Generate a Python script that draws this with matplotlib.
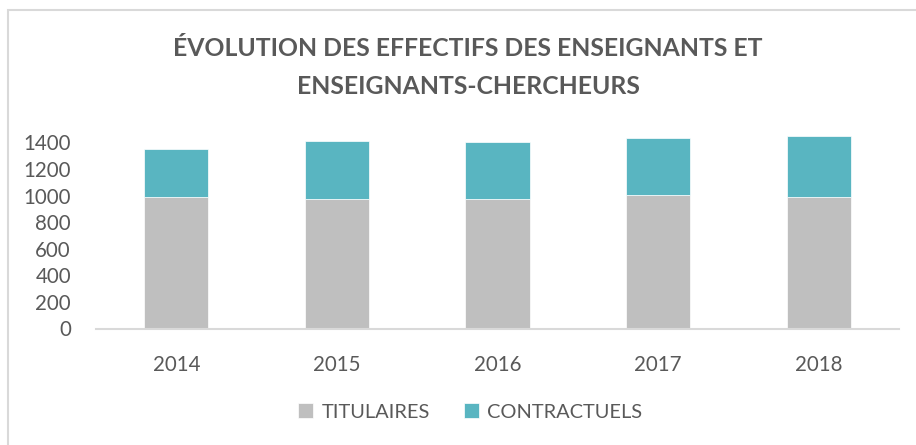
import numpy as np
import matplotlib.pyplot as plt
from matplotlib.patches import Rectangle

plt.rcParams['font.family'] = ['Lato', 'DejaVu Sans']

# Effectifs par année
annees = ['2014', '2015', '2016', '2017', '2018']
titulaires = [989, 978, 974, 1004, 989]
contractuels = [361, 436, 433, 433, 461]

gris = '#bfbfbf'
bleu = '#59b5c1'
texte = '#595959'

fig = plt.figure(figsize=(9.16, 4.45), dpi=100)
ax = fig.add_axes([96/916, 116.5/445, 803/916, 212.6/445])

x = np.arange(len(annees))
ax.bar(x, titulaires, width=0.4, color=gris, edgecolor='white', linewidth=0.5, label='TITULAIRES')
ax.bar(x, contractuels, width=0.4, bottom=titulaires, color=bleu, edgecolor='white', linewidth=0.5, label='CONTRACTUELS')

ax.set_xlim(-0.5, 4.5)
ax.set_ylim(0, 1600)
ax.set_yticks(range(0, 1401, 200))
ax.set_xticks(x)
ax.set_xticklabels(annees)
ax.tick_params(axis='both', length=0, labelsize=14.8, labelcolor=texte)
ax.tick_params(axis='x', pad=19)
ax.tick_params(axis='y', pad=18)
for s in ['top', 'right', 'left']:
    ax.spines[s].set_visible(False)
ax.spines['bottom'].set_color('#d9d9d9')
ax.spines['bottom'].set_linewidth(1.5)

fig.text(468/916, 1 - 48/445, 'ÉVOLUTION DES EFFECTIFS DES ENSEIGNANTS ET',
         ha='center', va='center', fontsize=17.8, fontweight='bold', color=texte)
fig.text(468/916, 1 - 86/445, 'ENSEIGNANTS-CHERCHEURS',
         ha='center', va='center', fontsize=17.8, fontweight='bold', color=texte)

fig.legend(loc='center', bbox_to_anchor=(470/916, 1 - 412/445), ncol=2, frameon=False,
           fontsize=14.4, labelcolor=texte, handlelength=0.75, handleheight=0.75,
           handletextpad=0.4, columnspacing=1.7)

# cadre du graphique
fig.patches.append(Rectangle((8/916, -0.1), 1.0, 1 - 10/445 + 0.1, transform=fig.transFigure,
                             fill=False, edgecolor='#d9d9d9', linewidth=1.5))

fig.savefig('out.png', dpi=100)
